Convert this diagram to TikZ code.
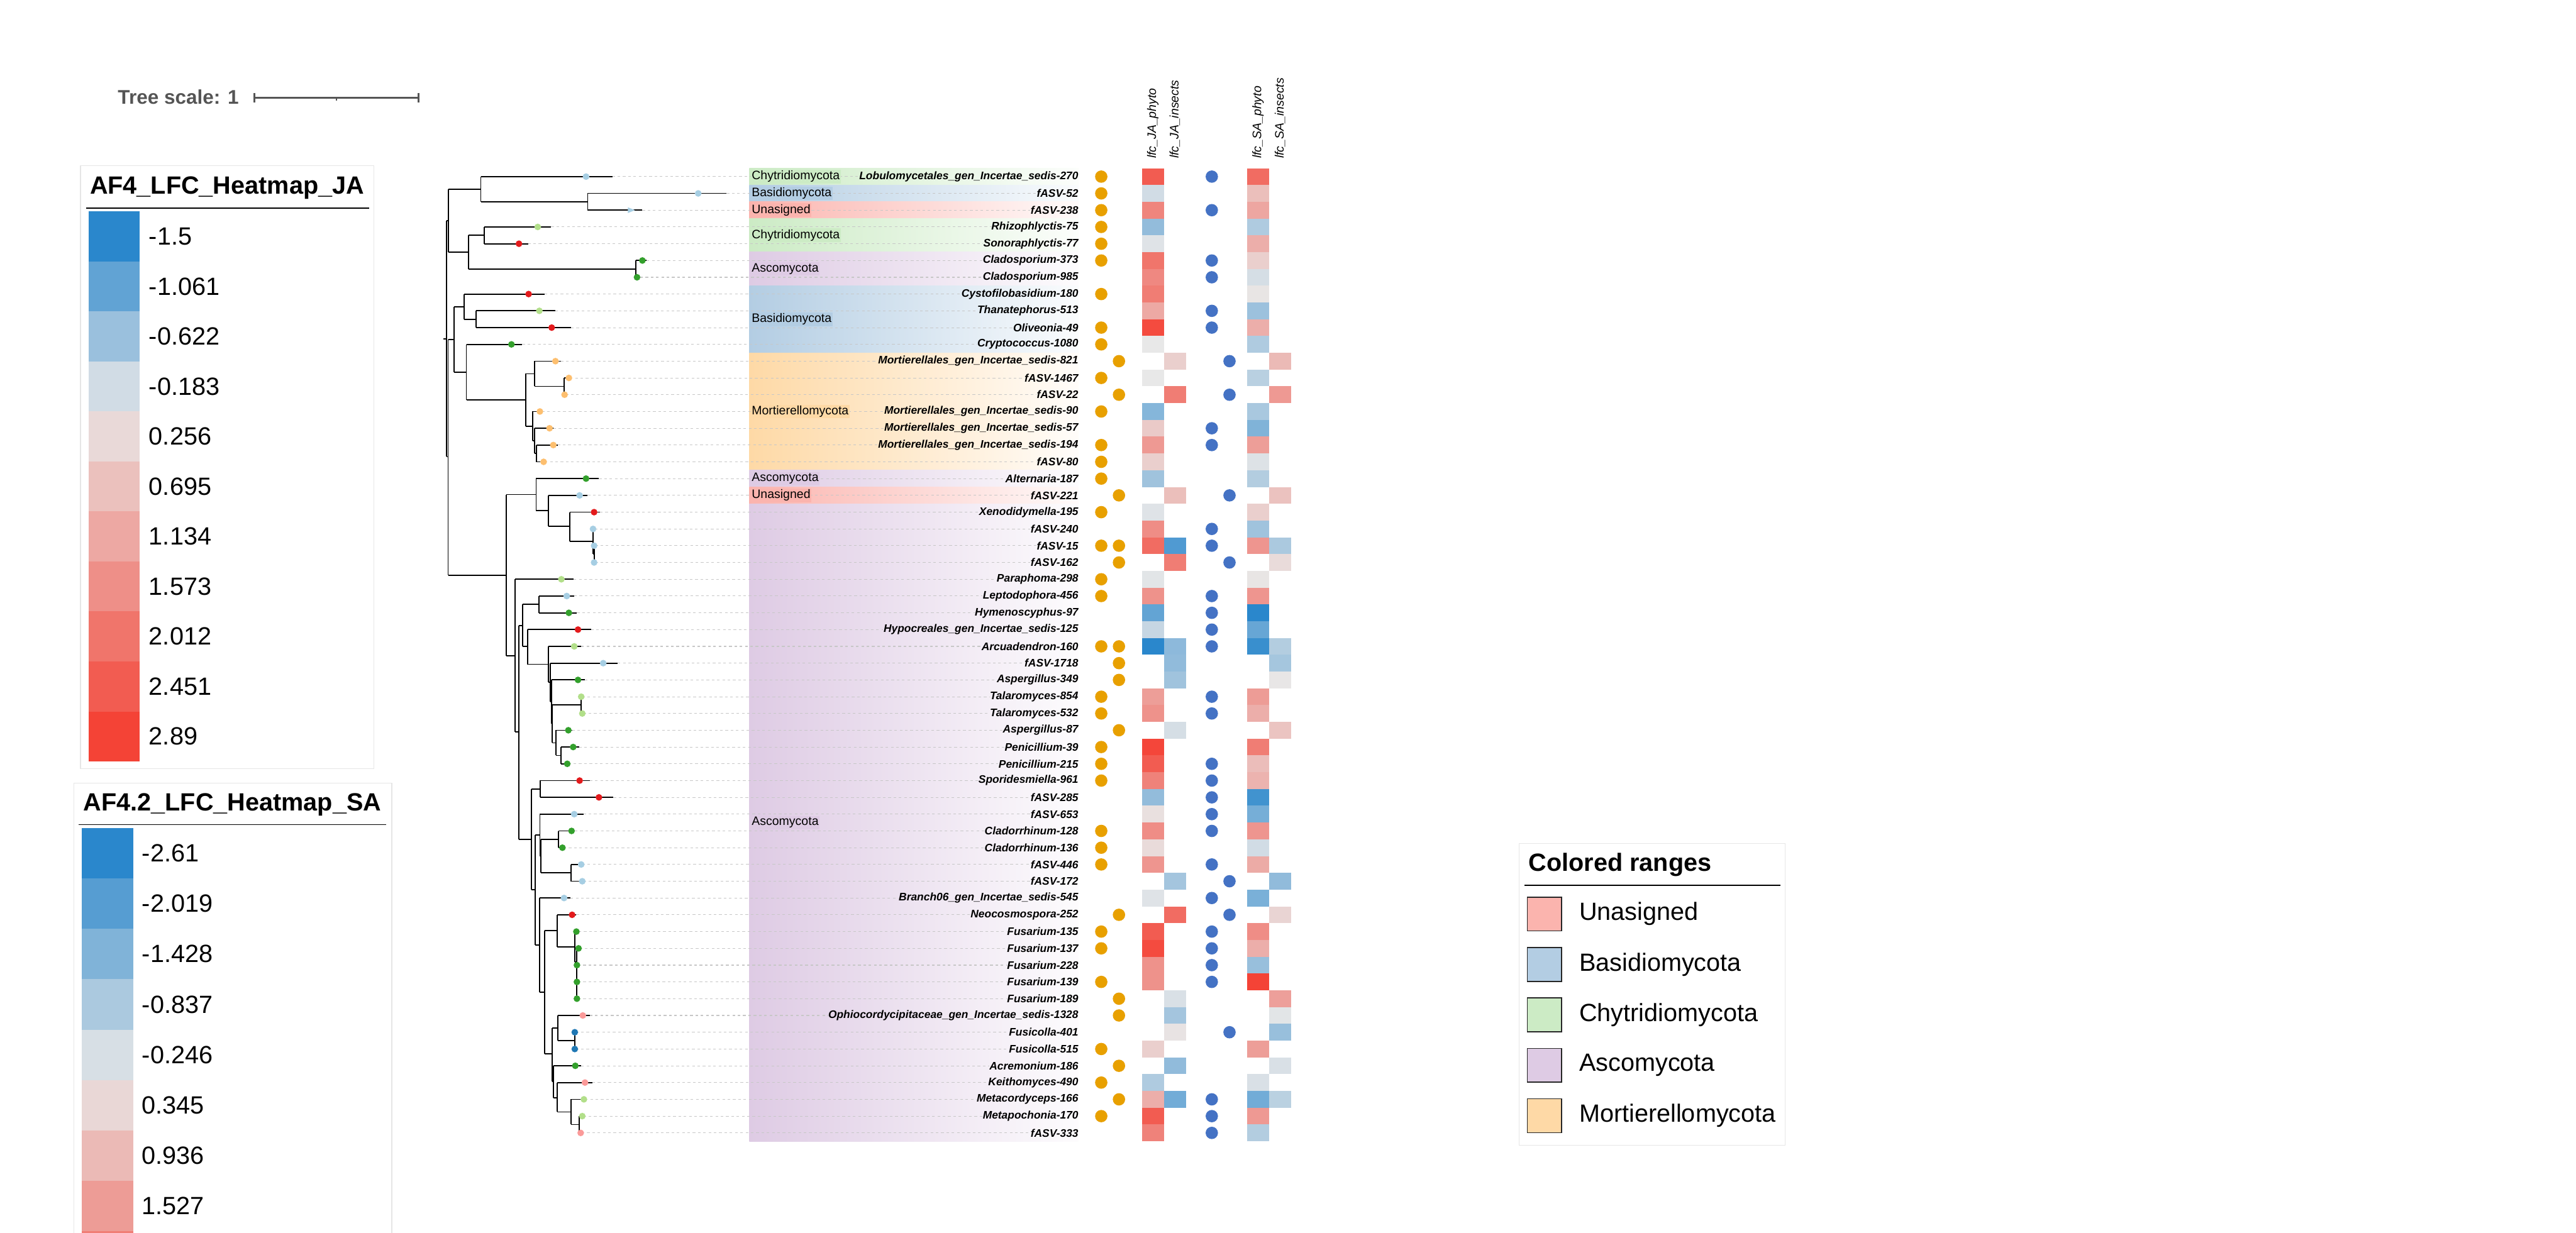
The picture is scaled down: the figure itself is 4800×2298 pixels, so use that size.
\documentclass[tikz,border=0pt]{standalone}
\usepackage{fontspec}
\setmainfont{Liberation Sans}

% Farben
\definecolor{chy}{HTML}{CCEBC5}
\definecolor{bas}{HTML}{B3CDE3}
\definecolor{una}{HTML}{FBB4AE}
\definecolor{asc}{HTML}{DECBE4}
\definecolor{mor}{HTML}{FED9A6}
\definecolor{hblau}{HTML}{A6CEE3}
\definecolor{dgruen}{HTML}{33A02C}
\definecolor{hgruen}{HTML}{B2DF8A}
\definecolor{rot}{HTML}{E31A1C}
\definecolor{hor}{HTML}{FDBF6F}
\definecolor{lachs}{HTML}{FB9A99}
\definecolor{dblau}{HTML}{1F78B4}
\definecolor{hmblau}{HTML}{2A87CC}
\definecolor{hmrot}{HTML}{F44336}
\definecolor{hmmitte}{HTML}{E8E8E8}
\definecolor{punktor}{HTML}{E8A000}
\definecolor{punktbl}{HTML}{4472C4}
\definecolor{skala}{HTML}{555555}
\definecolor{rahmen}{HTML}{E6E6E6}

\tikzset{
  ast/.style={draw=black, line width=0.6pt},
  leit/.style={draw=black!22, line width=0.35pt, dash pattern=on 1.4pt off 1.4pt},
  blatt/.style={anchor=east, inner sep=0pt, font=\fontsize{5.8}{7}\selectfont\bfseries\itshape},
  gruppe/.style={anchor=west, inner sep=0.6pt, font=\fontsize{6.5}{7.8}\selectfont},
  kopf/.style={rotate=90, anchor=west, inner sep=0pt, font=\fontsize{6.5}{7.8}\selectfont\itshape},
  legtitel/.style={anchor=base west, inner sep=0pt, font=\fontsize{13.2}{15}\selectfont\bfseries},
  legtext/.style={anchor=west, inner sep=0pt, font=\fontsize{13.2}{15}\selectfont},
  legrahmen/.style={draw=rahmen, line width=0.4pt}
}

\begin{document}
\begin{tikzpicture}[x=0.01cm, y=-0.01cm]
	\useasboundingbox (0,0) rectangle (4800,2298);
	\clip (0,0) rectangle (4800,2298);

	% Massstab
	\node[anchor=base west, inner sep=0pt, text=skala, font=\fontsize{10.5}{12}\selectfont\bfseries] (skalatext) at (219,194) {Tree scale: 1};
	\draw[skala, line width=0.85pt] (474,173) -- (474,191) (474,182) -- (780,182) (780,173) -- (780,191) (627,182) -- (627,188);

	\begin{scope}[yshift=-2.9775cm, y=-0.3125cm]
	% Farbbereiche (Phyla)
	\foreach \a/\b/\farbe/\lab in {1/1/chy/Chytridiomycota, 2/2/bas/Basidiomycota, 3/3/una/Unasigned, 4/5/chy/Chytridiomycota, 6/7/asc/Ascomycota, 8/11/bas/Basidiomycota, 12/18/mor/Mortierellomycota, 19/19/asc/Ascomycota, 20/20/una/Unasigned, 21/58/asc/Ascomycota}
		\shade[left color=\farbe, right color=\farbe!6!white] (1396,\a-0.5) rectangle (2010,\b+0.5);

	% Baum: innere Knoten
	\foreach \va/\kx/\ky/\oben/\unten in {
		826/832/10.66/3.625/17.7, 832/836/3.625/1.75/5.5, 836/896/1.75/1/2.5, 896/1095/2.5/2/3,
		836/873/5.5/4.5/6.5, 873/902/4.5/4/5, 873/1185/6.5/6/7,
		832/835/17.7/10.7/24.75, 835/846/10.7/8.75/12.65, 846/865/8.75/8/9.5, 865/887/9.5/9/10,
		846/869/12.65/11/14.3, 869/980/14.3/12.75/15.875, 980/996/12.75/12/13.5, 996/1051/13.5/13/14,
		980/993/15.875/15/16.75, 993/996/16.75/16/17.5, 996/1000/17.5/17/18,
		835/943/24.75/19.95/29.55, 943/999/19.95/19/20.9, 999/1022/20.9/20/21.83,
		1022/1062/21.83/21/22.75, 1062/1105/22.75/22/23.5, 1105/1107/23.5/23/24,
		943/960/29.55/25/34.1, 960/967/34.1/27.75/40.5, 967/974/27.75/26.5/29.0, 974/1004/26.5/26/27,
		974/983/29.0/28/30.07, 983/1022/30.07/29/31.15, 1022/1025/31.15/30/32.3, 1025/1028/32.3/31/33.6,
		1028/1029/33.6/32.5/34.75, 1029/1083/32.5/32/33, 1029/1036/34.75/34/35.5, 1036/1045/35.5/35/36,
		967/990/40.5/37.5/43.5, 990/1007/37.5/37/38, 990/997/43.5/40.25/46.8, 997/1006/40.25/39/41.5,
		1006/1008/41.5/40.5/42.5, 1008/1041/40.5/40/41, 1008/1064/42.5/42/43,
		997/1005/46.8/44/49.6, 1005/1015/49.6/45.95/53.3, 1015/1038/45.95/45/46.9,
		1038/1071/46.9/46/47.8, 1071/1075/47.8/47/50,
		1015/1029/53.3/51.75/54.95, 1029/1039/51.75/51/52.5, 1039/1071/52.5/52/53,
		1029/1031/54.95/54/55.9, 1031/1038/55.9/55/56.75, 1038/1064/56.75/56/57.5, 1064/1079/57.5/57/58}
		\draw[ast] (\va,\ky) -- (\kx,\ky) (\kx,\oben) -- (\kx,\unten);

	% Blaetter mit Beschriftung
	\foreach \n/\va/\spitze/\pkt/\col/\lab in {
		1/896/1141/1092/hblau/{Lobulomycetales\_gen\_Incertae\_sedis-270},
		2/1095/1354/1301/hblau/{fASV-52},
		3/1095/1197/1175/hblau/{fASV-238},
		4/902/1027/1002/hgruen/{Rhizophlyctis-75},
		5/902/984/967/rot/{Sonoraphlyctis-77},
		6/1185/1205/1197/dgruen/{Cladosporium-373},
		7/1185/1193/1187/dgruen/{Cladosporium-985},
		8/865/1015/985/rot/{Cystofilobasidium-180},
		9/887/1035/1005/hgruen/{Thanatephorus-513},
		10/887/1064/1028/rot/{Oliveonia-49},
		11/869/973/953/dgruen/{Cryptococcus-1080},
		12/996/1045/1035/hor/{Mortierellales\_gen\_Incertae\_sedis-821},
		13/1051/1062/1060/hor/{fASV-1467},
		14/1051/1054/1052/hor/{fASV-22},
		15/993/1010/1006/hor/{Mortierellales\_gen\_Incertae\_sedis-90},
		16/996/1031/1024/hor/{Mortierellales\_gen\_Incertae\_sedis-57},
		17/1000/1039/1031/hor/{Mortierellales\_gen\_Incertae\_sedis-194},
		18/1000/1015/1013/hor/{fASV-80},
		19/999/1116/1092/dgruen/{Alternaria-187},
		20/1022/1095/1080/hblau/{fASV-221},
		21/1062/1118/1107/rot/{Xenodidymella-195},
		22/1105/1108/1105/hblau/{fASV-240},
		23/1107/1109/1107/hblau/{fASV-15},
		24/1107/1109/1107/hblau/{fASV-162},
		25/960/1069/1046/hgruen/{Paraphoma-298},
		26/1004/1070/1056/hblau/{Leptodophora-456},
		27/1004/1075/1060/dgruen/{Hymenoscyphus-97},
		28/983/1101/1077/rot/{Hypocreales\_gen\_Incertae\_sedis-125},
		29/1022/1083/1070/hgruen/{Arcuadendron-160},
		30/1025/1151/1124/hblau/{fASV-1718},
		31/1028/1090/1077/dgruen/{Aspergillus-349},
		32/1083/1085/1083/hgruen/{Talaromyces-854},
		33/1083/1087/1085/hgruen/{Talaromyces-532},
		34/1036/1066/1059/dgruen/{Aspergillus-87},
		35/1045/1079/1068/dgruen/{Penicillium-39},
		36/1045/1059/1057/dgruen/{Penicillium-215},
		37/1007/1099/1080/rot/{Sporidesmiella-961},
		38/1007/1143/1116/rot/{fASV-285},
		39/1006/1087/1070/hblau/{fASV-653},
		40/1041/1071/1065/dgruen/{Cladorrhinum-128},
		41/1041/1050/1048/dgruen/{Cladorrhinum-136},
		42/1064/1085/1083/hblau/{fASV-446},
		43/1064/1087/1085/hblau/{fASV-172},
		44/1005/1063/1051/hblau/{Branch06\_gen\_Incertae\_sedis-545},
		45/1038/1074/1066/rot/{Neocosmospora-252},
		46/1071/1078/1074/dgruen/{Fusarium-135},
		47/1075/1080/1078/dgruen/{Fusarium-137},
		48/1075/1077/1075/dgruen/{Fusarium-228},
		49/1075/1077/1075/dgruen/{Fusarium-139},
		50/1075/1077/1075/dgruen/{Fusarium-189},
		51/1039/1099/1086/lachs/{Ophiocordycipitaceae\_gen\_Incertae\_sedis-1328},
		52/1071/1073/1071/dblau/{Fusicolla-401},
		53/1071/1073/1071/dblau/{Fusicolla-515},
		54/1031/1083/1072/dgruen/{Acremonium-186},
		55/1038/1104/1090/lachs/{Keithomyces-490},
		56/1064/1090/1088/hgruen/{Metacordyceps-166},
		57/1079/1087/1085/hgruen/{Metapochonia-170},
		58/1079/1084/1082/lachs/{fASV-333}} {
		\draw[ast] (\va,\n) -- (\spitze,\n);
		\coordinate (t\n) at (\spitze,\n);
		\node[blatt] (l\n) at (2010,\n) {\lab};
		\draw[leit] (t\n) -- (l\n.west);
		\ifnum\n=3
			\fill[\col] (1170,2.83) -- (1183,3) -- (1170,3.17) -- cycle;
		\else
			\fill[\col] (\pkt,\n) circle[radius=0.062cm];
		\fi
	}

	% Namen der Farbbereiche
	\foreach \a/\b/\farbe/\lab [count=\k] in {1/1/chy/Chytridiomycota, 2/2/bas/Basidiomycota, 3/3/una/Unasigned, 4/5/chy/Chytridiomycota, 6/7/asc/Ascomycota, 8/11/bas/Basidiomycota, 12/18/mor/Mortierellomycota, 19/19/asc/Ascomycota, 20/20/una/Unasigned, 21/58/asc/Ascomycota}
		\node[gruppe, fill=\farbe] (g\k) at (1398,{(\a+\b)/2}) {\lab};

	% Heatmap (Wert in Prozent, negativ = blau)
	\foreach \n/\x/\v in {
		1/2128/85, 1/2324/75, 2/2128/-12, 2/2324/25, 3/2128/60, 3/2324/40, 4/2128/-45, 4/2324/-30,
		5/2128/-5, 5/2324/35, 6/2128/70, 6/2324/15, 7/2128/58, 7/2324/-10, 8/2128/65, 8/2324/2,
		9/2128/38, 9/2324/-40, 10/2128/95, 10/2324/35, 11/2128/0, 11/2324/-30, 12/2169/15, 12/2365/28,
		13/2128/0, 13/2324/-25, 14/2169/65, 14/2365/48, 15/2128/-52, 15/2324/-33, 16/2128/18, 16/2324/-55,
		17/2128/48, 17/2324/45, 18/2128/15, 18/2324/-6, 19/2128/-38, 19/2324/-28, 20/2169/25, 20/2365/23,
		21/2128/-5, 21/2324/15, 22/2128/55, 22/2324/-38, 23/2128/75, 23/2169/-80, 23/2324/50, 23/2365/-32,
		24/2169/65, 24/2365/8, 25/2128/-3, 25/2324/2, 26/2128/52, 26/2324/50, 27/2128/-70, 27/2324/-100,
		28/2128/-18, 28/2324/-68, 29/2128/-100, 29/2169/-48, 29/2324/-92, 29/2365/-28, 30/2169/-46, 30/2365/-35,
		31/2169/-38, 31/2365/1, 32/2128/45, 32/2324/46, 33/2128/52, 33/2324/35, 34/2169/-10, 34/2365/22,
		35/2128/98, 35/2324/65, 36/2128/85, 36/2324/26, 37/2128/62, 37/2324/32, 38/2128/-45, 38/2324/-88,
		39/2128/5, 39/2324/-60, 40/2128/55, 40/2324/50, 41/2128/8, 41/2324/-12, 42/2128/50, 42/2324/37,
		43/2169/-36, 43/2365/-46, 44/2128/-5, 44/2324/-58, 45/2169/75, 45/2365/12, 46/2128/85, 46/2324/55,
		47/2128/95, 47/2324/35, 48/2128/52, 48/2324/-42, 49/2128/52, 49/2324/100, 50/2169/-8, 50/2365/44,
		51/2169/-36, 51/2365/-3, 52/2169/3, 52/2365/-42, 53/2128/15, 53/2324/45, 54/2169/-46, 54/2365/-8,
		55/2128/-30, 55/2324/-8, 56/2128/35, 56/2169/-62, 56/2324/-62, 56/2365/-24, 57/2128/85, 57/2324/48,
		58/2128/62, 58/2324/-28} {
		\ifnum\v<0 \edef\fb{hmblau!\number-\v!hmmitte}\else\edef\fb{hmrot!\v!hmmitte}\fi
		\fill[\fb] (\x,\n-0.5) rectangle ++(41,1);
	}

	% Punkte
	\foreach \n in {1,2,3,4,5,6,8,10,11,13,15,17,18,19,21,23,25,26,29,32,33,35,36,37,40,41,42,46,47,49,53,55,57}
		\fill[punktor] (2052,\n) circle[radius=0.115cm];
	\foreach \n in {12,14,20,23,24,29,30,31,34,45,50,51,54,56}
		\fill[punktor] (2085,\n) circle[radius=0.115cm];
	\foreach \n in {1,3,6,7,9,10,16,17,22,23,26,27,28,29,32,33,36,37,38,39,40,42,44,46,47,48,49,56,57,58}
		\fill[punktbl] (2258,\n) circle[radius=0.115cm];
	\foreach \n in {12,14,20,24,43,45,52}
		\fill[punktbl] (2291,\n) circle[radius=0.115cm];
	\end{scope}

	% Spaltenkoepfe
	\node[kopf] (k1) at (2148,296) {lfc\_JA\_phyto};
	\node[kopf] (k2) at (2189,296) {lfc\_JA\_insects};
	\node[kopf] (k3) at (2344,296) {lfc\_SA\_phyto};
	\node[kopf] (k4) at (2385,296) {lfc\_SA\_insects};

	% Legende JA
	\draw[legrahmen] (150,309) rectangle (697,1433);
	\node[legtitel] (jatitel) at (167,361) {AF4\_LFC\_Heatmap\_JA};
	\draw[line width=0.45pt] (160,388) -- (688,388);
	\foreach \i/\w/\t in {0/-100/-1.5, 1/-71/-1.061, 2/-41/-0.622, 3/-12/-0.183, 4/9/0.256, 5/24/0.695, 6/39/1.134, 7/54/1.573, 8/70/2.012, 9/85/2.451, 10/100/2.89} {
		\ifnum\w<0 \edef\fb{hmblau!\number-\w!hmmitte}\else\edef\fb{hmrot!\w!hmmitte}\fi
		\fill[\fb] (165,394+93.2*\i) rectangle ++(95,93.2);
		\node[legtext] (ja\i) at (277,440.6+93.2*\i) {\t};
	}

	% Legende SA
	\draw[legrahmen] (137.5,2320) -- (137.5,1460) -- (730,1460) -- (730,2320);
	\node[legtitel] (satitel) at (155,1511) {AF4.2\_LFC\_Heatmap\_SA};
	\draw[line width=0.45pt] (147,1537) -- (719,1537);
	\foreach \i/\w/\t in {0/-100/-2.61, 1/-77/-2.019, 2/-55/-1.428, 3/-32/-0.837, 4/-9/-0.246, 5/10/0.345, 6/28/0.936, 7/46/1.527} {
		\ifnum\w<0 \edef\fb{hmblau!\number-\w!hmmitte}\else\edef\fb{hmrot!\w!hmmitte}\fi
		\fill[\fb] (152,1543+94*\i) rectangle ++(96,94);
		\node[legtext] (sa\i) at (264,1590+94*\i) {\t};
	}
	\fill[hmrot!64!hmmitte] (152,2295) rectangle ++(96,94);

	% Legende Farbbereiche
	\draw[legrahmen] (2831,1572) rectangle (3326,2135);
	\node[legtitel] (fbtitel) at (2848,1624) {Colored ranges};
	\draw[line width=0.45pt] (2841,1650) -- (3317,1650);
	\foreach \i/\farbe/\lab in {0/una/Unasigned, 1/bas/Basidiomycota, 2/chy/Chytridiomycota, 3/asc/Ascomycota, 4/mor/Mortierellomycota} {
		\filldraw[fill=\farbe, draw=black!85, line width=0.5pt] (2846,1672+94*\i) rectangle ++(64,63);
		\node[legtext] (fb\i) at (2942,1703.5+94*\i) {\lab};
	}
\end{tikzpicture}
\end{document}
